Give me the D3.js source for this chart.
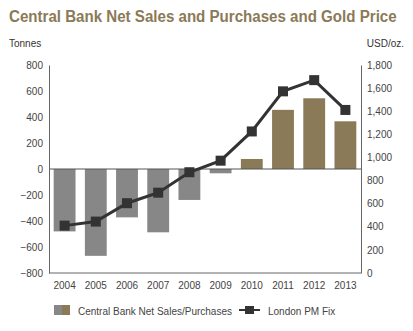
<!DOCTYPE html>
<html>
<head>
<meta charset="utf-8">
<script src="https://cdn.jsdelivr.net/npm/d3@7"></script>
<style>
  body { margin: 0; background: #fff; }
  text { font-family: "Liberation Sans", Arial, sans-serif; }
</style>
</head>
<body>
<svg id="chart" width="413" height="331"></svg>
<script>
// data
const years = ["2004", "2005", "2006", "2007", "2008", "2009", "2010", "2011", "2012", "2013"];
const netSales = [-480, -668, -372, -487, -238, -33, 77, 455, 544, 367];
const goldPrice = [410, 445, 604, 695, 872, 972, 1225, 1572, 1669, 1411];
const leftTicks = [-800, -600, -400, -200, 0, 200, 400, 600, 800];
const rightTicks = [0, 200, 400, 600, 800, 1000, 1200, 1400, 1600, 1800];

const svg = d3.select("#chart");
const plotLeft = 49, plotRight = 361, plotTop = 65, plotBottom = 273;
const gray = "#878787", gold = "#8b7a57", dark = "#333333";

const x = d3.scaleBand().domain(years).range([plotLeft, plotRight]).paddingInner(0.3).paddingOuter(0.15);
const yL = d3.scaleLinear().domain([-800, 800]).range([plotBottom, plotTop]);
const yR = d3.scaleLinear().domain([0, 1800]).range([plotBottom, plotTop]);

// title, squeezed horizontally to fit the reference width
const title = svg.append("text")
  .attr("x", 0).attr("y", 0)
  .style("font-size", "16px").style("font-weight", "bold")
  .attr("fill", gold)
  .text("Central Bank Net Sales and Purchases and Gold Price");
const tw = title.node().getComputedTextLength();
title.attr("transform", `translate(9,22) scale(${Math.min(1, 388 / tw)},1)`);

svg.append("text").attr("x", 9).attr("y", 47)
  .style("font-size", "10px").attr("fill", "#333").text("Tonnes");
svg.append("text").attr("x", 404).attr("y", 47).attr("text-anchor", "end")
  .style("font-size", "10px").attr("fill", "#333").text("USD/oz.");

// bars
svg.append("g").selectAll("rect")
  .data(years)
  .join("rect")
  .attr("x", (d) => x(d))
  .attr("width", x.bandwidth())
  .attr("y", (d, i) => yL(Math.max(0, netSales[i])))
  .attr("height", (d, i) => Math.abs(yL(netSales[i]) - yL(0)))
  .attr("fill", (d, i) => (netSales[i] < 0 ? gray : gold));

// zero line
svg.append("line")
  .attr("x1", plotLeft).attr("x2", plotRight)
  .attr("y1", yL(0)).attr("y2", yL(0))
  .attr("stroke", "#555").attr("stroke-width", 1);

// axes
const axL = svg.append("g").attr("transform", `translate(${plotLeft},0)`)
  .call(d3.axisLeft(yL).tickValues(leftTicks).tickSize(0).tickPadding(6));
const axR = svg.append("g").attr("transform", `translate(${plotRight},0)`)
  .call(d3.axisRight(yR).tickValues(rightTicks).tickSize(0).tickPadding(6).tickFormat(d3.format(",")));
const axB = svg.append("g").attr("transform", `translate(0,${plotBottom})`)
  .call(d3.axisBottom(x).tickSize(0).tickPadding(9));
[axL, axR, axB].forEach((g) => {
  g.select(".domain").attr("stroke", "#666").attr("stroke-width", 1);
  g.selectAll("text").style("font-size", "10px").attr("fill", "#444")
    .style("font-family", "'Liberation Sans', Arial, sans-serif");
});
axB.select(".domain").attr("d", `M${plotLeft},0H${plotRight}`);

// gold price line
const cx = (i) => x(years[i]) + x.bandwidth() / 2;
svg.append("path")
  .datum(goldPrice)
  .attr("d", d3.line().x((d, i) => cx(i)).y((d) => yR(d)))
  .attr("fill", "none").attr("stroke", dark).attr("stroke-width", 3);
svg.append("g").selectAll("rect")
  .data(goldPrice)
  .join("rect")
  .attr("x", (d, i) => cx(i) - 5).attr("y", (d) => yR(d) - 5)
  .attr("width", 10).attr("height", 10)
  .attr("fill", dark);

// legend
const ly = 305;
svg.append("rect").attr("x", 54).attr("y", ly).attr("width", 8).attr("height", 10).attr("fill", gray);
svg.append("rect").attr("x", 62).attr("y", ly).attr("width", 8).attr("height", 10).attr("fill", gold);
svg.append("text").attr("x", 78).attr("y", ly + 10)
  .style("font-size", "10px").attr("fill", "#444").text("Central Bank Net Sales/Purchases");
svg.append("line").attr("x1", 239).attr("x2", 260).attr("y1", ly + 5).attr("y2", ly + 5)
  .attr("stroke", dark).attr("stroke-width", 2);
svg.append("rect").attr("x", 245).attr("y", ly + 1).attr("width", 9).attr("height", 8).attr("fill", dark);
svg.append("text").attr("x", 268).attr("y", ly + 10)
  .style("font-size", "10px").attr("fill", "#444").text("London PM Fix");
</script>
</body>
</html>
